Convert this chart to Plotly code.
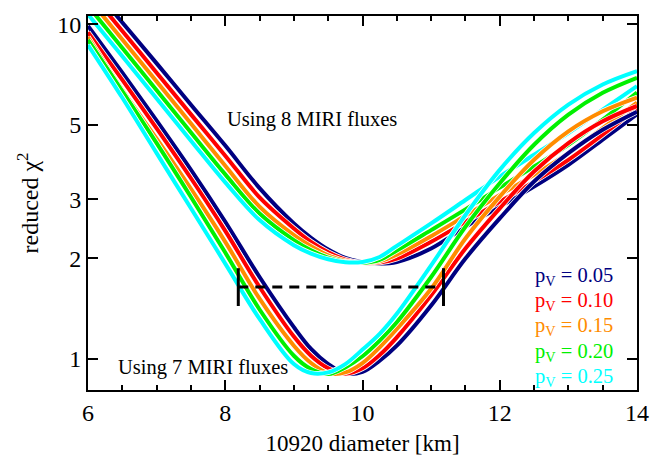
import numpy as np
import plotly.graph_objects as go

# Diameter grid (km) on which reduced chi^2 was evaluated
diam = [6.0, 6.5, 7.0, 7.5, 8.0, 8.5, 9.0, 9.25, 9.5, 9.75, 10.0, 10.25,
        10.5, 11.0, 11.5, 12.0, 12.5, 13.0, 13.5, 14.0]

# Fits using 8 MIRI fluxes, one curve per geometric albedo
chi2_8_p005 = [13.4, 10.12, 7.64, 5.75, 4.34, 3.24, 2.54, 2.301, 2.123, 2.004, 1.945, 1.928,
               1.950, 2.138, 2.483, 2.851, 3.273, 3.802, 4.519, 5.383]
chi2_8_p010 = [12.7, 9.55, 7.16, 5.38, 4.05, 3.04, 2.455, 2.239, 2.084, 1.982, 1.936, 1.941,
               1.995, 2.239, 2.570, 2.951, 3.388, 3.936, 4.677, 5.598]
chi2_8_p015 = [12.0, 9.0, 6.745, 5.05, 3.78, 2.85, 2.344, 2.173, 2.042, 1.963, 1.936, 1.959,
               2.051, 2.328, 2.679, 3.090, 3.548, 4.121, 4.898, 5.834]
chi2_8_p020 = [11.35, 8.49, 6.35, 4.75, 3.56, 2.72, 2.265, 2.113, 2.009, 1.950, 1.936, 1.977,
               2.109, 2.427, 2.799, 3.251, 3.758, 4.365, 5.188, 6.252]
chi2_8_p025 = [10.7, 8.02, 6.0, 4.49, 3.37, 2.60, 2.188, 2.065, 1.986, 1.945, 1.950, 2.018,
               2.178, 2.541, 2.985, 3.508, 4.074, 4.732, 5.559, 6.531]

# Fits using 7 MIRI fluxes
chi2_7_p005 = [9.886, 7.161, 5.152, 3.673, 2.570, 1.758, 1.245, 1.072, 0.966, 0.906, 0.916, 0.989,
               1.096, 1.445, 1.995, 2.63, 3.39, 4.12, 4.84, 5.48]
chi2_7_p010 = [9.46, 6.82, 4.887, 3.467, 2.415, 1.641, 1.167, 1.023, 0.938, 0.904, 0.938, 1.028,
               1.161, 1.549, 2.138, 2.818, 3.631, 4.416, 5.129, 5.70]
chi2_7_p015 = [9.16, 6.368, 4.550, 3.221, 2.239, 1.514, 1.096, 0.973, 0.908, 0.912, 0.973, 1.084,
               1.23, 1.622, 2.291, 3.055, 3.936, 4.786, 5.495, 6.04]
chi2_7_p020 = [8.974, 6.310, 4.416, 3.048, 2.080, 1.406, 1.023, 0.933, 0.902, 0.944, 1.019, 1.135,
               1.288, 1.758, 2.483, 3.35, 4.365, 5.37, 6.24, 6.92]
chi2_7_p025 = [8.67, 6.03, 4.12, 2.82, 1.928, 1.318, 0.966, 0.908, 0.912, 0.966, 1.067, 1.189,
               1.365, 1.905, 2.692, 3.673, 4.732, 5.754, 6.607, 7.244]

albedo_labels = ["0.05", "0.10", "0.15", "0.20", "0.25"]
albedo_colors = ["#000080", "#ff0000", "#ff8c00", "#00f000", "#00ffff"]

# Diameter uncertainty interval and its chi^2 level
range_chi2 = 1.64
range_lo = 8.19
range_hi = 11.18

series_8 = [chi2_8_p005, chi2_8_p010, chi2_8_p015, chi2_8_p020, chi2_8_p025]
series_7 = [chi2_7_p005, chi2_7_p010, chi2_7_p015, chi2_7_p020, chi2_7_p025]

serif = "Liberation Serif"
fig = go.Figure()

# each curve gets a narrow white edge so overlapping curves stay distinct
for family in (series_8, series_7):
    for vals, col in zip(family, albedo_colors):
        fig.add_trace(go.Scatter(x=diam, y=vals, mode="lines",
                                 line=dict(color="white", width=5.5, shape="spline", smoothing=1.0),
                                 showlegend=False, hoverinfo="skip"))
        fig.add_trace(go.Scatter(x=diam, y=vals, mode="lines",
                                 line=dict(color=col, width=4, shape="spline", smoothing=1.0),
                                 showlegend=False, hoverinfo="skip"))

# dashed interval with end caps
fig.add_trace(go.Scatter(x=[range_lo, range_hi], y=[range_chi2, range_chi2], mode="lines",
                         line=dict(color="black", width=3, dash="10px,7px"),
                         showlegend=False, hoverinfo="skip"))
fig.add_trace(go.Scatter(x=[range_lo, range_hi], y=[range_chi2, range_chi2], mode="markers",
                         marker=dict(symbol="line-ns", size=27,
                                     line=dict(color="black", width=3)),
                         showlegend=False, hoverinfo="skip"))

annotations = [
    dict(x=9.27, y=np.log10(5.19), text="Using 8 MIRI fluxes", showarrow=False,
         font=dict(family=serif, size=20.5, color="black"), xanchor="center", yanchor="middle"),
    dict(x=7.68, y=np.log10(0.945), text="Using 7 MIRI fluxes", showarrow=False,
         font=dict(family=serif, size=20.5, color="black"), xanchor="center", yanchor="middle"),
]
legend_y = [1.768, 1.49, 1.248, 1.045, 0.882]
for lab, col, yv in zip(albedo_labels, albedo_colors, legend_y):
    annotations.append(dict(x=12.49, y=np.log10(yv), text=f"p<sub>V</sub> = {lab}",
                            showarrow=False, xanchor="left", yanchor="middle",
                            font=dict(family=serif, size=20.5, color=col)))

fig.update_layout(
    width=671, height=469,
    margin=dict(l=88, r=34, t=13, b=79),
    paper_bgcolor="white", plot_bgcolor="white",
    font=dict(family=serif, size=23, color="black"),
    annotations=annotations,
)
fig.update_xaxes(
    range=[6, 14], tickvals=[6, 8, 10, 12, 14], ticks="inside", ticklen=10, tickwidth=2,
    tickcolor="black",
    minor=dict(dtick=0.5, ticks="inside", ticklen=5, tickwidth=2, tickcolor="black"),
    showline=True, linewidth=2, linecolor="black", mirror="allticks", showgrid=False,
    zeroline=False, tickfont=dict(family=serif, size=24),
    title=dict(text="10920 diameter [km]", font=dict(family=serif, size=23), standoff=10),
)
fig.update_yaxes(
    type="log", range=[-0.0925, 1.0246], tickvals=[1, 2, 3, 5, 10],
    ticktext=["1", "2", "3", "5", "10"], ticks="inside", ticklen=10, tickwidth=2,
    tickcolor="black",
    showline=True, linewidth=2, linecolor="black", mirror="allticks", showgrid=False,
    zeroline=False, tickfont=dict(family=serif, size=24),
    title=dict(text="reduced χ<sup>2</sup>", font=dict(family=serif, size=24), standoff=12),
)

fig.write_html("out.html")
